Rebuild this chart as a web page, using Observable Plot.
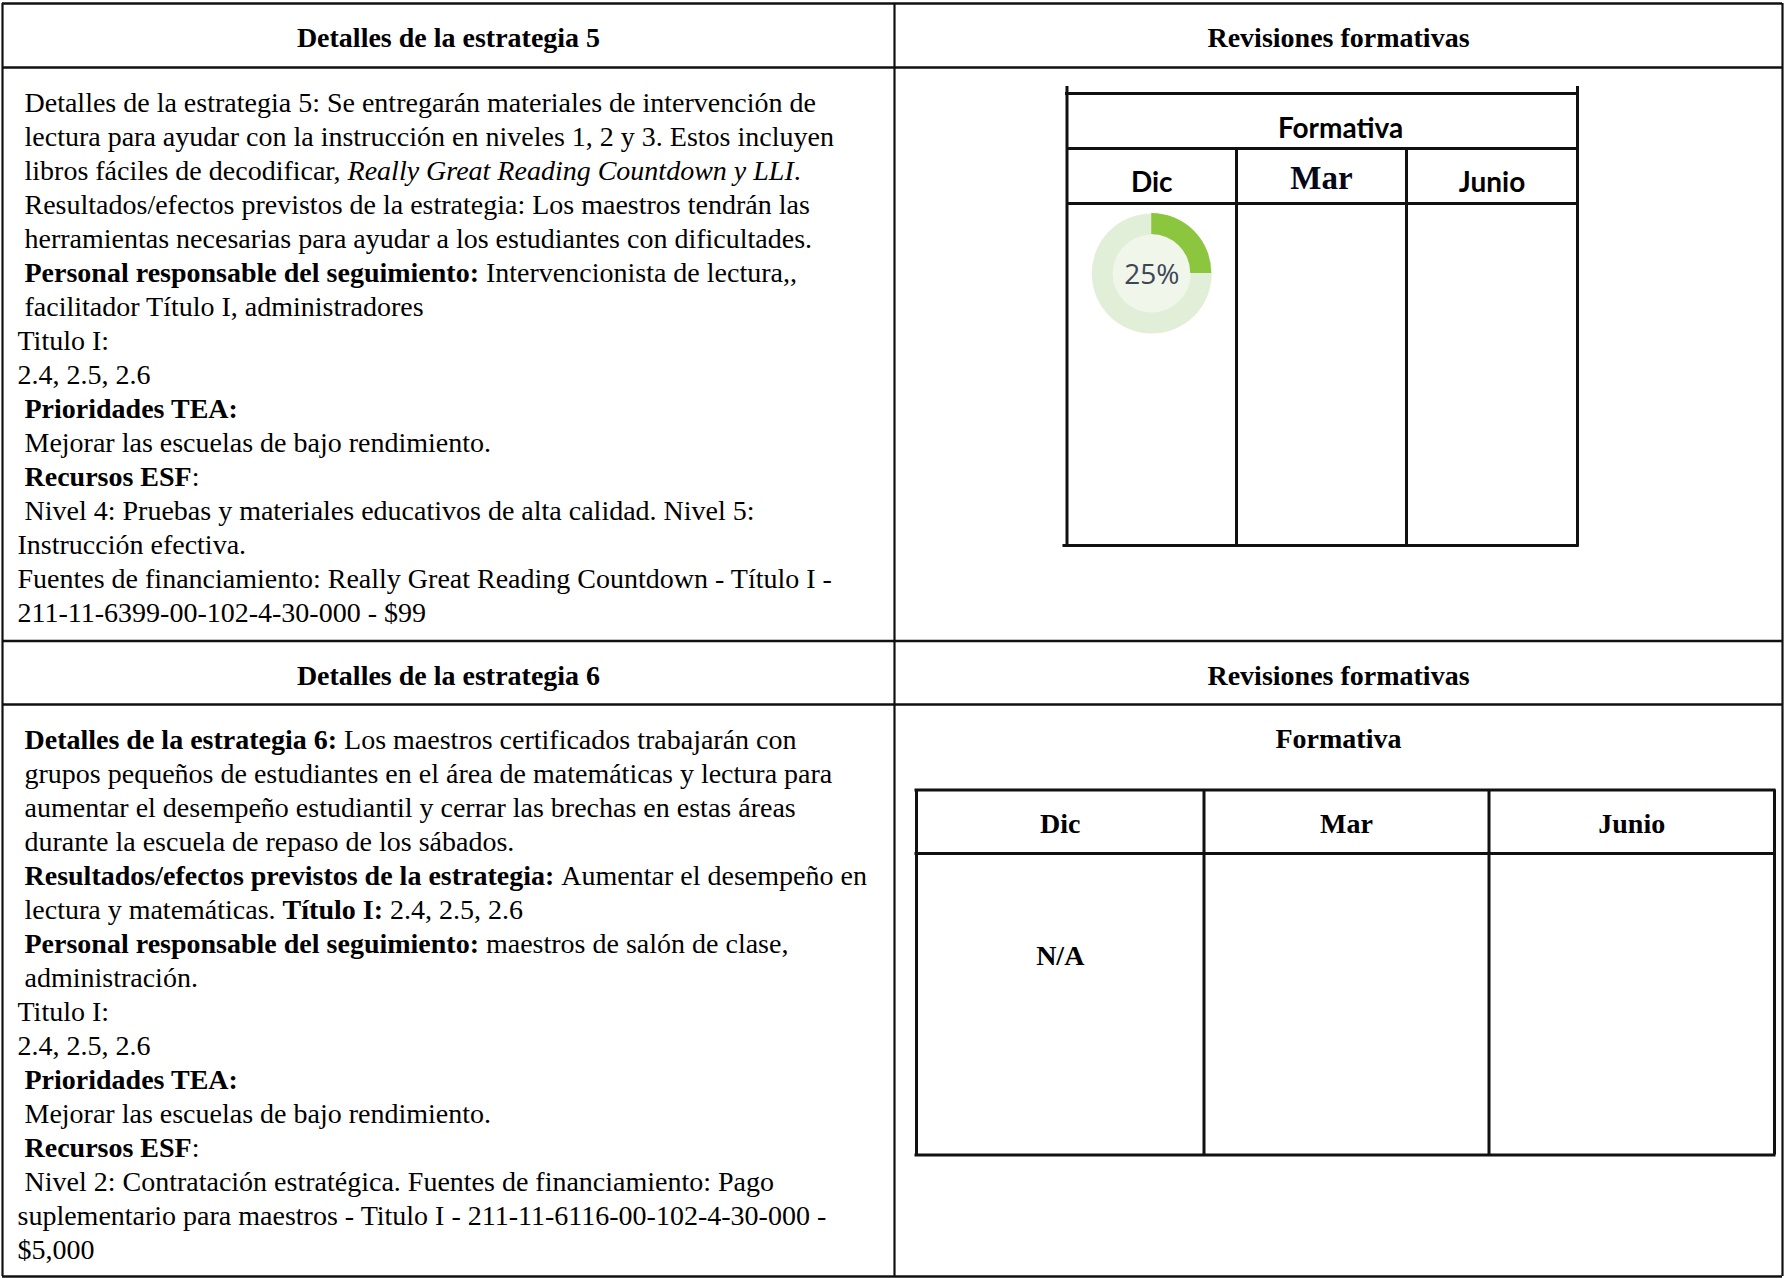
<!DOCTYPE html>
<html>
<head>
<meta charset="utf-8">
<script src="https://cdn.jsdelivr.net/npm/d3@7"></script>
<script src="https://cdn.jsdelivr.net/npm/@observablehq/plot@0.6"></script>
<style>
  html, body { margin: 0; padding: 0; background: #ffffff; }
  #chart svg { display: block; }
</style>
</head>
<body>
<div id="chart"></div>
<script>
// ---------------- DATA ----------------
const columnHeaders = ["Detalles de la estrategia 5", "Revisiones formativas", "Detalles de la estrategia 6", "Revisiones formativas"];

// each line = list of [text, style]  (r = regular, b = bold, i = italic)
const strategy5Lines = [
  [[" Detalles de la estrategia 5: Se entregarán materiales de intervención de", "r"]],
  [[" lectura para ayudar con la instrucción en niveles 1, 2 y 3. Estos incluyen", "r"]],
  [[" libros fáciles de decodificar, ", "r"], ["Really Great Reading Countdown y LLI", "i"], [".", "r"]],
  [[" Resultados/efectos previstos de la estrategia: Los maestros tendrán las", "r"]],
  [[" herramientas necesarias para ayudar a los estudiantes con dificultades.", "r"]],
  [[" Personal responsable del seguimiento:", "b"], [" Intervencionista de lectura,,", "r"]],
  [[" facilitador Título I, administradores", "r"]],
  [["Titulo I:", "r"]],
  [["2.4, 2.5, 2.6", "r"]],
  [[" Prioridades TEA:", "b"]],
  [[" Mejorar las escuelas de bajo rendimiento.", "r"]],
  [[" Recursos ESF", "b"], [":", "r"]],
  [[" Nivel 4: Pruebas y materiales educativos de alta calidad. Nivel 5:", "r"]],
  [["Instrucción efectiva.", "r"]],
  [["Fuentes de financiamiento: Really Great Reading Countdown - Título I -", "r"]],
  [["211-11-6399-00-102-4-30-000 - $99", "r"]]
];

const strategy6Lines = [
  [[" Detalles de la estrategia 6:", "b"], [" Los maestros certificados trabajarán con", "r"]],
  [[" grupos pequeños de estudiantes en el área de matemáticas y lectura para", "r"]],
  [[" aumentar el desempeño estudiantil y cerrar las brechas en estas áreas", "r"]],
  [[" durante la escuela de repaso de los sábados.", "r"]],
  [[" Resultados/efectos previstos de la estrategia:", "b"], [" Aumentar el desempeño en", "r"]],
  [[" lectura y matemáticas. ", "r"], ["Título I:", "b"], [" 2.4, 2.5, 2.6", "r"]],
  [[" Personal responsable del seguimiento:", "b"], [" maestros de salón de clase,", "r"]],
  [[" administración.", "r"]],
  [["Titulo I:", "r"]],
  [["2.4, 2.5, 2.6", "r"]],
  [[" Prioridades TEA:", "b"]],
  [[" Mejorar las escuelas de bajo rendimiento.", "r"]],
  [[" Recursos ESF", "b"], [":", "r"]],
  [[" Nivel 2: Contratación estratégica. Fuentes de financiamiento: Pago", "r"]],
  [["suplementario para maestros - Titulo I - 211-11-6116-00-102-4-30-000 -", "r"]],
  [["$5,000", "r"]]
];

const formativeTitle = "Formativa";
const months = ["Dic", "Mar", "Junio"];
const progress5 = [25, null, null];        // percent complete per review (Dic, Mar, Junio)
const status6 = ["N/A", "", ""];          // text per review (Dic, Mar, Junio)

// ---------------- LAYOUT / STYLE ----------------
const W = 1784, H = 1278;
const SERIF = "'Liberation Serif', 'Times New Roman', Times, serif";
const SANS = "Lato, 'Open Sans', sans-serif";
const FS = 28, LH = 34;
const INK = "#000000";
const LINE = "#111111";

const outer = {x0: 2, x1: 1782, y0: 3, y1: 1276, mid: 894, rows: [67, 640.5, 704]};
const body1 = {x: 17, y: 111};
const body2 = {x: 17, y: 748};
const leftCenter = (outer.x0 + outer.mid) / 2;
const rightCenter = (outer.mid + outer.x1) / 2;

// top-right small table (image-like)
const t1 = {xs: [1066.5, 1236, 1406, 1577], ys: [93, 148, 203, 545], top: 86, titleX: 1340, titleY: 137, headY: 191};
// bottom-right table
const t2 = {xs: [916, 1203.5, 1488.5, 1774], ys: [789.5, 853, 1154.5], titleY: 747.5, headY: 832, cellY: 964};

const donut = {cy: 273, rOuter: 60, rInner: 39, ring: "#e2efd8", hole: "#f0f7ea", fill: "#8cc63f", text: "#3d4656"};

// ---------------- TEXT SEGMENTS (measured) ----------------
const ctx = document.createElement("canvas").getContext("2d");
function fontOf(style) {
  return `${style === "i" ? "italic " : ""}${style === "b" ? "bold " : ""}${FS}px ${SERIF}`;
}
function measure(text, style) { ctx.font = fontOf(style); return ctx.measureText(text).width; }

function layoutLines(lines, origin) {
  const out = [];
  lines.forEach((segs, i) => {
    let x = origin.x;
    const y = origin.y + i * LH;
    for (const [text, style] of segs) {
      const lead = text.match(/^ */)[0];
      x += measure(lead, style);
      const t = text.slice(lead.length);
      if (t.length) out.push({x, y, text: t, style});
      x += measure(t, style);
    }
  });
  return out;
}
const segments = [...layoutLines(strategy5Lines, body1), ...layoutLines(strategy6Lines, body2)];

const headerItems = [
  {x: leftCenter, y: 46, text: columnHeaders[0]},
  {x: rightCenter, y: 46, text: columnHeaders[1]},
  {x: leftCenter, y: 684, text: columnHeaders[2]},
  {x: rightCenter, y: 684, text: columnHeaders[3]}
];

const mid = (a, b) => (a + b) / 2;
const t1Cols = months.map((m, i) => ({month: m, x: mid(t1.xs[i], t1.xs[i + 1]), value: progress5[i]}));
const t2Cols = months.map((m, i) => ({month: m, x: mid(t2.xs[i], t2.xs[i + 1]), status: status6[i]}));
const donuts = t1Cols.filter(d => d.value != null).map(d => ({x: d.x, y: donut.cy, value: d.value, label: `${d.value}%`}));

// ---------------- GRID LINES ----------------
const hLines = [
  ...[outer.y0, ...outer.rows, outer.y1].map(y => ({y, x1: outer.x0, x2: outer.x1, w: 2.6})),
  {y: t1.ys[0], x1: t1.xs[0] - 1.5, x2: t1.xs[3] + 1.5, w: 3},
  {y: t1.ys[1], x1: t1.xs[0], x2: t1.xs[3], w: 3},
  {y: t1.ys[2], x1: t1.xs[0], x2: t1.xs[3], w: 3},
  {y: t1.ys[3], x1: t1.xs[0] - 4, x2: t1.xs[3] + 1.5, w: 3},
  ...t2.ys.map(y => ({y, x1: t2.xs[0] - 1.5, x2: t2.xs[3] + 1.5, w: 3}))
];
const vLines = [
  ...[outer.x0, outer.mid, outer.x1].map(x => ({x, y1: outer.y0, y2: outer.y1, w: 2.2})),
  {x: t1.xs[0], y1: t1.top, y2: t1.ys[3] + 1.5, w: 3},
  {x: t1.xs[3], y1: t1.top, y2: t1.ys[3] + 1.5, w: 3},
  {x: t1.xs[1], y1: t1.ys[1], y2: t1.ys[3], w: 3},
  {x: t1.xs[2], y1: t1.ys[1], y2: t1.ys[3], w: 3},
  ...t2.xs.map(x => ({x, y1: t2.ys[0], y2: t2.ys[2], w: 3}))
];

// ---------------- PLOT ----------------
const textBase = {x: "x", y: "y", text: "text", lineAnchor: "bottom", fontSize: FS, fill: INK};

const arcMark = (index, scales) => {
  const sx = scales && scales.x ? scales.x : (v => v);
  const sy = scales && scales.y ? scales.y : (v => v);
  const g = d3.create("svg:g");
  for (const d of donuts) {
    const path = d3.arc()({innerRadius: donut.rInner, outerRadius: donut.rOuter, startAngle: 0, endAngle: 2 * Math.PI * d.value / 100});
    g.append("path").attr("transform", `translate(${sx(d.x)},${sy(d.y)})`).attr("d", path).attr("fill", donut.fill);
  }
  return g.node();
};

const chart = Plot.plot({
  width: W,
  height: H,
  margin: 0,
  x: {domain: [0, W], range: [0, W], axis: null},
  y: {domain: [0, H], range: [0, H], axis: null},
  style: {background: "#ffffff"},
  marks: [
    // donut
    Plot.dot(donuts, {x: "x", y: "y", r: donut.rOuter, fill: donut.ring}),
    Plot.dot(donuts, {x: "x", y: "y", r: donut.rInner, fill: donut.hole}),
    arcMark,
    Plot.text(donuts, {x: "x", y: d => d.y + 10.5, text: "label", lineAnchor: "bottom", fontFamily: "'Open Sans', 'Noto Sans', sans-serif", fontSize: 28, fill: donut.text}),

    // grid
    Plot.ruleY(hLines, {y: "y", x1: "x1", x2: "x2", stroke: LINE, strokeWidth: d => d.w}),
    Plot.ruleX(vLines, {x: "x", y1: "y1", y2: "y2", stroke: LINE, strokeWidth: d => d.w}),

    // headers
    Plot.text(headerItems, {...textBase, textAnchor: "middle", fontFamily: SERIF, fontWeight: "bold"}),

    // body text by style
    Plot.text(segments.filter(d => d.style === "r"), {...textBase, textAnchor: "start", fontFamily: SERIF}),
    Plot.text(segments.filter(d => d.style === "b"), {...textBase, textAnchor: "start", fontFamily: SERIF, fontWeight: "bold"}),
    Plot.text(segments.filter(d => d.style === "i"), {...textBase, textAnchor: "start", fontFamily: SERIF, fontStyle: "italic"}),

    // top-right small table
    Plot.text([{x: t1.titleX, y: t1.titleY, text: formativeTitle}], {...textBase, textAnchor: "middle", fontFamily: SANS, fontWeight: "bold"}),
    Plot.text(t1Cols.filter(d => d.month !== "Mar"), {x: "x", y: () => t1.headY, text: "month", lineAnchor: "bottom", textAnchor: "middle", fontFamily: SANS, fontWeight: "bold", fontSize: FS, fill: INK}),
    Plot.text(t1Cols.filter(d => d.month === "Mar"), {x: "x", y: () => t1.headY - 3, text: "month", lineAnchor: "bottom", textAnchor: "middle", fontFamily: SERIF, fontWeight: "bold", fontSize: 33, fill: "#05081a"}),

    // bottom-right table
    Plot.text([{x: rightCenter, y: t2.titleY, text: formativeTitle}], {...textBase, textAnchor: "middle", fontFamily: SERIF, fontWeight: "bold"}),
    Plot.text(t2Cols, {x: "x", y: () => t2.headY, text: "month", lineAnchor: "bottom", textAnchor: "middle", fontFamily: SERIF, fontWeight: "bold", fontSize: FS, fill: INK}),
    Plot.text(t2Cols.filter(d => d.status), {x: "x", y: () => t2.cellY, text: "status", lineAnchor: "bottom", textAnchor: "middle", fontFamily: SERIF, fontWeight: "bold", fontSize: FS, fill: INK})
  ]
});

document.getElementById("chart").appendChild(chart);
</script>
</body>
</html>
